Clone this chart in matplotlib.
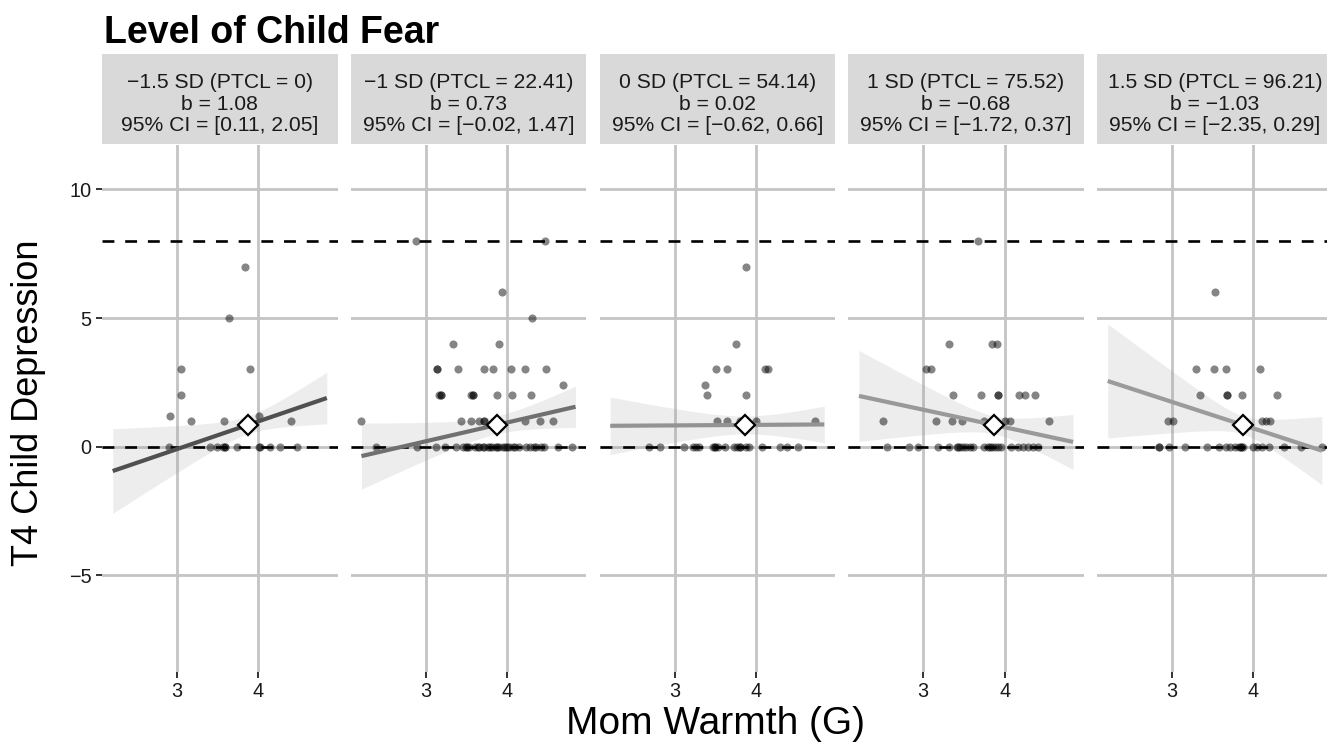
import numpy as np
import matplotlib.pyplot as plt

plt.rcParams['font.family'] = ['Liberation Sans', 'DejaVu Sans']

# strip labels and simple slope results
sd_labels = ["\u22121.5 SD (PTCL = 0)", "\u22121 SD (PTCL = 22.41)", "0 SD (PTCL = 54.14)",
             "1 SD (PTCL = 75.52)", "1.5 SD (PTCL = 96.21)"]
slopes = [1.08, 0.73, 0.02, -0.68, -1.03]
ci_low = [0.11, -0.02, -0.62, -1.72, -2.35]
ci_high = [2.05, 1.47, 0.66, 0.37, 0.29]
mean_warmth = 3.87
mean_dep = 0.84
line_colors = ['#505050', '#707070', '#939393', '#999999', '#9b9b9b']

# points (mom warmth, child depression) per panel
x1 = [3.83, 3.64, 3.05, 3.90, 3.05, 2.91, 3.17, 3.58, 4.01, 4.40,
      2.90, 3.41, 3.49, 3.56, 3.59, 3.59, 3.74, 4.01, 4.02, 4.14, 4.26, 4.48]
y1 = [7, 5, 3, 3, 2, 1.2, 1, 1, 1.2, 1] + [0] * 12

x2 = [2.88, 4.47, 3.94, 4.31, 3.34, 3.90,
      3.14, 3.14, 3.39, 3.71, 3.82, 4.05, 4.22, 4.48,
      4.69,
      3.16, 3.19, 3.19, 3.55, 3.58, 3.58, 3.88, 4.06, 4.29,
      2.21, 3.43, 3.55, 3.66, 3.71, 3.71, 4.22, 4.40, 4.56,
      2.39, 2.89, 3.12, 3.24, 3.37, 3.46, 3.50, 3.51, 3.53, 3.60, 3.64, 3.66,
      3.70, 3.72, 3.77, 3.79, 3.81, 3.86, 3.88, 3.90, 3.95, 3.97, 4.00, 4.02,
      4.07, 4.10, 4.14, 4.23, 4.28, 4.33, 4.35, 4.41, 4.45, 4.62, 4.80]
y2 = [8, 8, 6, 5, 4, 4] + [3] * 8 + [2.4] + [2] * 9 + [1] * 9 + [0] * 35

x3 = [3.88, 3.75, 3.51, 3.65, 4.11, 4.15, 3.37, 3.40, 3.88,
      3.52, 3.65, 3.81, 3.85, 4.00, 4.73,
      2.69, 2.82, 3.12, 3.23, 3.27, 3.30, 3.47, 3.50, 3.50, 3.53, 3.62,
      3.73, 3.77, 3.81, 3.81, 3.88, 3.91, 4.07, 4.29, 4.38, 4.52]
y3 = [7, 4, 3, 3, 3, 3, 2.4, 2, 2] + [1] * 6 + [0] * 21

x4 = [3.67, 3.32, 3.85, 3.91, 3.03, 3.09,
      3.36, 3.71, 3.92, 3.92, 4.18, 4.25, 4.37,
      2.50, 3.16, 3.35, 3.47, 3.75, 4.00, 4.06, 4.55,
      2.55, 2.82, 2.93, 3.18, 3.32, 3.41, 3.43, 3.45, 3.49, 3.53, 3.57, 3.61,
      3.75, 3.79, 3.82, 3.84, 3.88, 3.92, 3.96, 4.08, 4.16, 4.22, 4.29, 4.35, 4.41]
y4 = [8, 4, 4, 4, 3, 3] + [2] * 7 + [1] * 8 + [0] * 25

x5 = [3.53, 3.30, 3.51, 3.66, 4.08, 3.34, 3.68, 3.68, 3.86, 4.29,
      2.95, 3.01, 4.11, 4.16, 4.20,
      2.84, 2.84, 2.96, 3.16, 3.43, 3.58, 3.66, 3.71, 3.77, 3.82, 3.85,
      3.85, 3.87, 4.00, 4.05, 4.11, 4.19, 4.37, 4.58, 4.84]
y5 = [6, 3, 3, 3, 3, 2, 2, 2, 2, 2, 1, 1, 1, 1, 1] + [0] * 20

xs = [x1, x2, x3, x4, x5]
ys = [y1, y2, y3, y4, y5]

W, H = 1327, 754
fig = plt.figure(figsize=(W / 100, H / 100), dpi=100)

xmin = min(min(v) for v in xs)
xmax = max(max(v) for v in xs)
pad = 0.05 * (xmax - xmin)
xlim = (xmin - pad, xmax + pad)
ylim = (-8.77, 11.73)

left0, pw, step = 102, 235.5, 248.75
ptop, pbot = 145, 672
stop, sbot = 54, 144

for k in range(5):
    l = (left0 + k * step) / W
    ax = fig.add_axes([l, 1 - pbot / H, pw / W, (pbot - ptop) / H])
    ax.set_facecolor('white')
    for s in ax.spines.values():
        s.set_visible(False)
    ax.set_xlim(xlim)
    ax.set_ylim(ylim)
    ax.set_xticks([3, 4])
    ax.set_yticks([-5, 0, 5, 10])
    ax.grid(True, color='#c4c4c4', linewidth=2.0, zorder=0)
    ax.set_axisbelow(True)
    ax.tick_params(axis='both', length=4.5, width=1.4, color='#333333',
                   labelsize=14.3, labelcolor='#1a1a1a', pad=3)
    if k > 0:
        ax.tick_params(axis='y', left=False, labelleft=False)

    # confidence band + fitted line
    xx = np.linspace(xmin, xmax, 100)
    b = slopes[k]
    hw = (ci_high[k] - ci_low[k]) / 2
    yy = mean_dep + b * (xx - mean_warmth)
    half = np.sqrt(0.35 ** 2 + (hw * (xx - mean_warmth)) ** 2)
    ax.fill_between(xx, yy - half, yy + half, color='#999999', alpha=0.17,
                    linewidth=0, zorder=2)

    ax.scatter(xs[k], ys[k], s=34, color='black', alpha=0.48, linewidths=0, zorder=3)

    for h in [0, 8]:
        ax.axhline(h, color='black', linewidth=1.9, linestyle=(0, (4.5, 4.1)), zorder=4)

    ax.plot(xx, yy, color=line_colors[k], linewidth=3.0, solid_capstyle='butt', zorder=5)
    ax.plot([mean_warmth], [mean_dep], marker='D', markersize=10.5, markerfacecolor='white',
            markeredgecolor='black', markeredgewidth=1.6, zorder=6)

    sax = fig.add_axes([l, 1 - sbot / H, pw / W, (sbot - stop) / H])
    sax.set_facecolor('#d9d9d9')
    sax.set_xticks([])
    sax.set_yticks([])
    for s in sax.spines.values():
        s.set_visible(False)
    txt = "%s\nb = %.2f\n95%% CI = [%.2f, %.2f]" % (sd_labels[k], slopes[k], ci_low[k], ci_high[k])
    txt = txt.replace('-', '\u2212')
    sax.text(0.5, 0.44, txt, ha='center', va='center', fontsize=15.2, color='#1a1a1a',
             linespacing=1.16, transform=sax.transAxes)

fig.text(104 / W, 1 - 43 / H, "Level of Child Fear", fontsize=27, fontweight='bold',
         ha='left', va='baseline')
fig.text(29 / W, 1 - 403 / H, "T4 Child Depression", fontsize=26, rotation=90,
         ha='center', va='center')
fig.text(716 / W, 1 - 724 / H, "Mom Warmth (G)", fontsize=28, ha='center', va='center')

fig.savefig('out.png', dpi=100)
